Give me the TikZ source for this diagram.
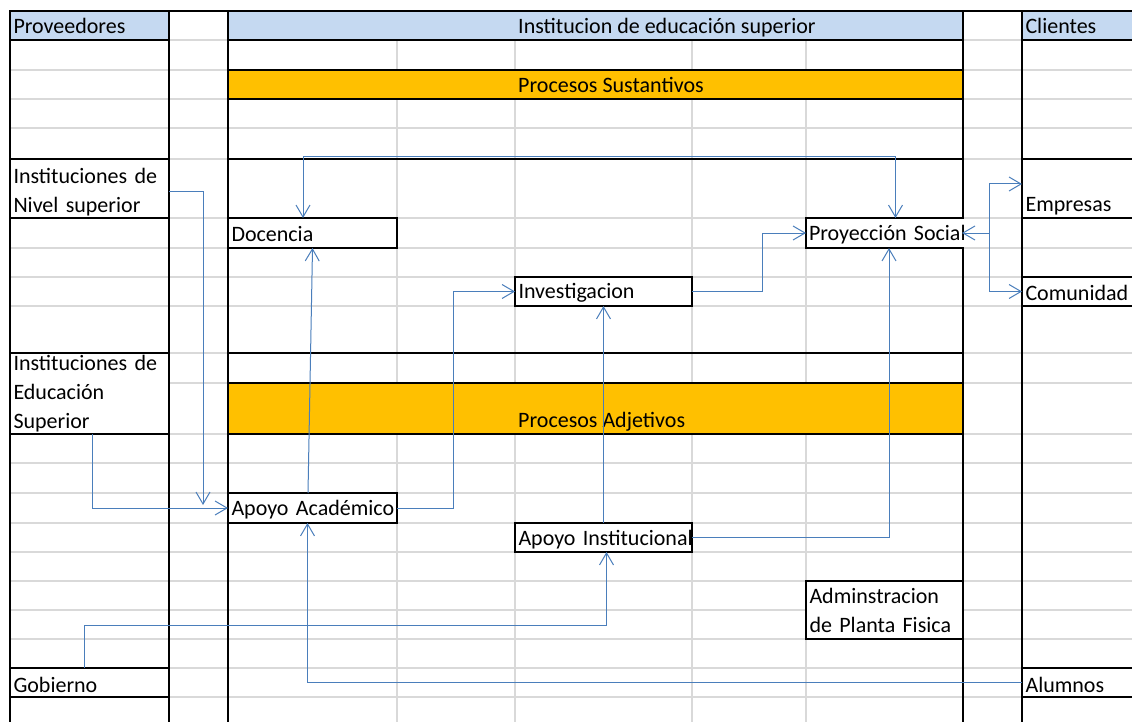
\documentclass[tikz,border=0pt]{standalone}
\usepackage{fontspec}
\setmainfont{Carlito}
\usetikzlibrary{positioning,arrows.meta}
\hyphenpenalty=10000
\definecolor{headblue}{RGB}{197,217,241}
\definecolor{bandorange}{RGB}{255,192,0}
\definecolor{gridgray}{RGB}{217,217,217}
\definecolor{linkblue}{RGB}{74,126,187}
\tikzset{
  cell/.style={draw, line width=2.2pt, fill=white, anchor=north west, outer sep=0pt,
    inner xsep=3.5pt, inner ysep=0pt, align=left},
  head/.style={cell, fill=headblue},
  band/.style={cell, fill=bandorange, minimum width=735pt},
  frame/.style={line width=2.2pt, line cap=rect},
  link/.style={linkblue, line width=1pt, ->},
  >={Straight Barb[length=12pt,width=14pt]}
}

\begin{document}
\begin{tikzpicture}[x=1pt, y=-1pt, font=\fontsize{22}{29}\selectfont]
  \clip (0,0) rectangle (1132,722);
  \fill[white] (0,0) rectangle (1132,722);
  \foreach \y in {40,70,99,128,159,218,248,277,306,353,383,434,463,493,523,552,581,610,639,668,697}
    \draw[gridgray, line width=1.4pt] (10,\y) -- (1132,\y);
  \foreach \x in {397,515,692,806}
    \draw[gridgray, line width=1.4pt] (\x,40) -- (\x,722);

  \node[head, text width=152pt, minimum height=29pt] (proveedores) at (10,11) {Proveedores};
  \node[head, minimum width=735pt, minimum height=29pt] (institucion) at (228,11) {};
  \node[head, text width=113pt, minimum height=29pt] (clientes) at (1022,11) {Clientes};
  \node (institxt) [right=287pt of institucion.west, yshift=-2.5pt, inner sep=3pt] {Institucion de educación superior};
  \node[band, minimum height=29pt] (sustantivos) at (228,70) {};
  \node (sustxt) [right=287pt of sustantivos.west, inner sep=3pt] {Procesos Sustantivos};
  \node[band, minimum height=51pt] (adjetivos) at (228,383) {};
  \node (adjtxt) [right=287pt of adjetivos.west, yshift=-13.5pt, inner sep=3pt] {Procesos Adjetivos};

  \node[cell, text width=152pt, minimum height=59pt, text height=23pt] (nivel) at (10,159) {Instituciones de\\Nivel superior};
  \node[cell, text width=152pt, minimum height=81pt] (educacion) at (10,353) {Instituciones de\\Educación\\Superior};
  \node[cell, text width=152pt, minimum height=29pt, text height=19pt, text depth=0pt] (gobierno) at (10,668) {Gobierno};
  \node[cell, text width=113pt, minimum height=59pt, text height=51pt, text depth=5pt] (empresas) at (1022,159) {Empresas};
  \node[cell, text width=113pt, minimum height=29pt, text height=17pt, text depth=0pt] (comunidad) at (1022,277) {Comunidad};
  \node[cell, text width=113pt, minimum height=29pt, text height=19pt, text depth=0pt] (alumnos) at (1022,668) {Alumnos};
  \node[cell, text width=162pt, minimum height=30pt, text height=17pt] (docencia) at (228,218) {Docencia};
  \node[cell, draw=none, text width=150pt, minimum height=30pt, inner xsep=3pt, text height=19pt, text depth=4.5pt] (proyeccion) at (806,218) {Proyección~Social};
  \node[cell, text width=170pt, minimum height=29pt, text height=18pt] (investigacion) at (515,277) {Investigacion};
  \node[cell, text width=162pt, minimum height=30pt, text height=19pt, text depth=4.5pt] (academico) at (228,493) {Apoyo~Académico};
  \node[cell, text width=170pt, minimum height=29pt, text height=19.5pt, text depth=4.5pt] (institucional) at (515,523) {Apoyo~Institucional};
  \node[cell, text width=150pt, minimum height=58pt] (planta) at (806,581) {Adminstracion\\de Planta Fisica};
  \draw[frame] (proyeccion.north east) -- (proyeccion.north west) -- (proyeccion.south west) -- (proyeccion.south east);

  \foreach \x in {10,169,228,1022}
    \draw[frame] (\x,11) -- (\x,722);
  \draw[frame] (963,11) -- (963,218) (963,248) -- (963,722);
  \draw[frame] (10,11) -- (1132,11);
  \draw[frame] (228,159) -- (963,159) (228,353) -- (963,353);

  \draw[link, <->] ([xshift=-9.5pt]docencia.north) -- ++(0,-61.5) -| ([xshift=11.5pt]proyeccion.north);
  \draw[link] ([yshift=-3.5pt]nivel.east) -| ([xshift=-25pt, yshift=3pt]academico.west);
  \draw[link] ([xshift=2.5pt]educacion.south) |- (academico.west);
  \draw[link] ([xshift=-4.5pt]academico.north) -- (docencia.south);
  \draw[link] (academico.east) -- ++(56,0) |- (investigacion.west);
  \draw[link] (institucional.north) -- (investigacion.south);
  \draw[link] (investigacion.east) -- ++(70,0) |- (proyeccion.west);
  \draw[link] (institucional.east) -| ([xshift=5pt]proyeccion.south);
  \coordinate (fork) at ([xshift=27pt]proyeccion.east);
  \draw[link] (fork) -- (proyeccion.east);
  \draw[link] (fork) |- ([yshift=4.5pt]empresas.west);
  \draw[link] (fork) |- (comunidad.west);
  \draw[link] ([xshift=-5.5pt]gobierno.north) -- ++(0,-43) -| ([xshift=3pt]institucional.south);
  \draw[link] (alumnos.west) -| ([xshift=-5pt]academico.south);
\end{tikzpicture}
\end{document}
